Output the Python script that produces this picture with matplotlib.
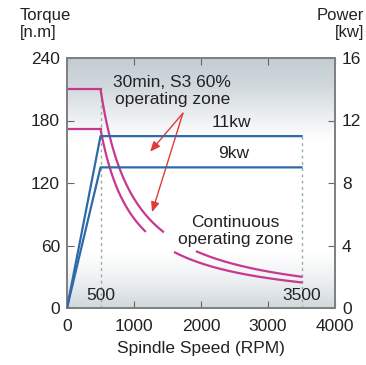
import numpy as np
import matplotlib
matplotlib.use("Agg")
import matplotlib.pyplot as plt
from matplotlib.colors import LinearSegmentedColormap

plt.rcParams['font.family'] = ['Liberation Sans', 'DejaVu Sans']

# Data
base_speed = 500          # RPM
max_speed = 3500          # RPM
powers_kw = [11, 9]       # S3 60% and continuous
power_labels = ["11kw", "9kw"]
xticks = [0, 1000, 2000, 3000, 4000]
yticks_torque = [0, 60, 120, 180, 240]
yticks_power = [0, 4, 8, 12, 16]
# gaps in the torque curves (RPM) around the "Continuous" label
curve_gaps = [(1433, 1940), (1164, 1612)]

magenta = "#c8388e"
blue = "#2f6aa8"
red = "#e03a3a"
dash_col = "#8fb0a0"

fig = plt.figure(figsize=(3.66, 3.65), dpi=100)
ax = fig.add_axes([67/366, 1-308/365, (335-67)/366, (308-58)/365])
ax.set_xlim(0, 4000)
ax.set_ylim(0, 240)
ax2 = ax.twinx()
ax2.set_ylim(0, 16)

# background gradient
pts = np.array([0.15, 0.35, 0.7, 1, 1, 1, 1, 1, 0.75, 0.35])
grad = np.interp(np.linspace(0, 9, 200), np.arange(10), pts)[:, None]
cmap = LinearSegmentedColormap.from_list("bg", ["#b8c4cb", "#ffffff"])
ax.imshow(grad, extent=[0, 4000, 0, 240], aspect='auto', cmap=cmap,
          vmin=0, vmax=1, origin='upper', zorder=0)

k = 9549.0
for p, (g0, g1) in zip(powers_kw, curve_gaps):
    t0 = k * p / base_speed
    ax.plot([0, base_speed], [t0, t0], color=magenta, lw=1.6, zorder=3)
    n1 = np.linspace(base_speed, g0, 200)
    ax.plot(n1, k * p / n1, color=magenta, lw=1.6, zorder=3)
    n2 = np.linspace(g1, max_speed, 200)
    ax.plot(n2, k * p / n2, color=magenta, lw=1.6, zorder=3)
    # power line
    ax2.plot([0, base_speed, max_speed], [0, p, p], color=blue, lw=1.6, zorder=4)

# dashed verticals
ax.plot([base_speed, base_speed], [0, k * powers_kw[0] / base_speed],
        color=dash_col, lw=1.0, ls=(0, (2, 2.5)), zorder=2)
ax.plot([max_speed, max_speed], [0, powers_kw[0] * 15],
        color=dash_col, lw=1.0, ls=(0, (2, 2.5)), zorder=2)

fs = 12.5
tc = "#222222"
ax.text(base_speed, 5, "500", ha='center', va='bottom', fontsize=fs, color=tc)
ax.text(max_speed, 5, "3500", ha='center', va='bottom', fontsize=fs, color=tc)
ax2.text(2450, powers_kw[0] + 0.4, power_labels[0], ha='center', va='bottom', fontsize=fs, color=tc)
ax2.text(2480, powers_kw[1] + 0.4, power_labels[1], ha='center', va='bottom', fontsize=fs, color=tc)
ax.text(1570, 208, "30min, S3 60%\noperating zone", ha='center', va='center',
        fontsize=fs, color=tc, linespacing=1.15, zorder=5)
ax.text(2510, 74, "Continuous\noperating zone", ha='center', va='center',
        fontsize=fs, color=tc, linespacing=1.15, zorder=5)

start = (1730, 187)
for end in [(1240, 150), (1270, 92)]:
    ax.annotate("", xy=end, xytext=start,
                arrowprops=dict(arrowstyle="-|>,head_length=0.6,head_width=0.25",
                                color=red, lw=1.0, shrinkA=0, shrinkB=0), zorder=6)

for a in (ax, ax2):
    for s in a.spines.values():
        s.set_color("#808080")
        s.set_linewidth(1.3)
ax.set_xticks(xticks)
ax.set_yticks(yticks_torque)
ax2.set_yticks(yticks_power)
ax.tick_params(axis='y', direction='in', length=5, color="#666666",
               labelsize=fs, labelcolor=tc, pad=5)
ax.tick_params(axis='x', direction='in', length=5, color="#666666",
               labelsize=fs, labelcolor=tc, top=True, pad=8)
ax2.tick_params(axis='y', direction='in', length=5, color="#666666",
                labelsize=fs, labelcolor=tc, pad=5)
ax.set_xlabel("Spindle Speed (RPM)", fontsize=fs, color=tc, labelpad=5)

fig.text(20/366, 1-8/365, "Torque\n[n.m]", ha='left', va='top', fontsize=12,
         color=tc, linespacing=1.15)
fig.text(364/366, 1-8/365, "Power\n[kw]", ha='right', va='top', fontsize=12,
         color=tc, linespacing=1.15, multialignment='right')

fig.savefig("out.png", dpi=100)
